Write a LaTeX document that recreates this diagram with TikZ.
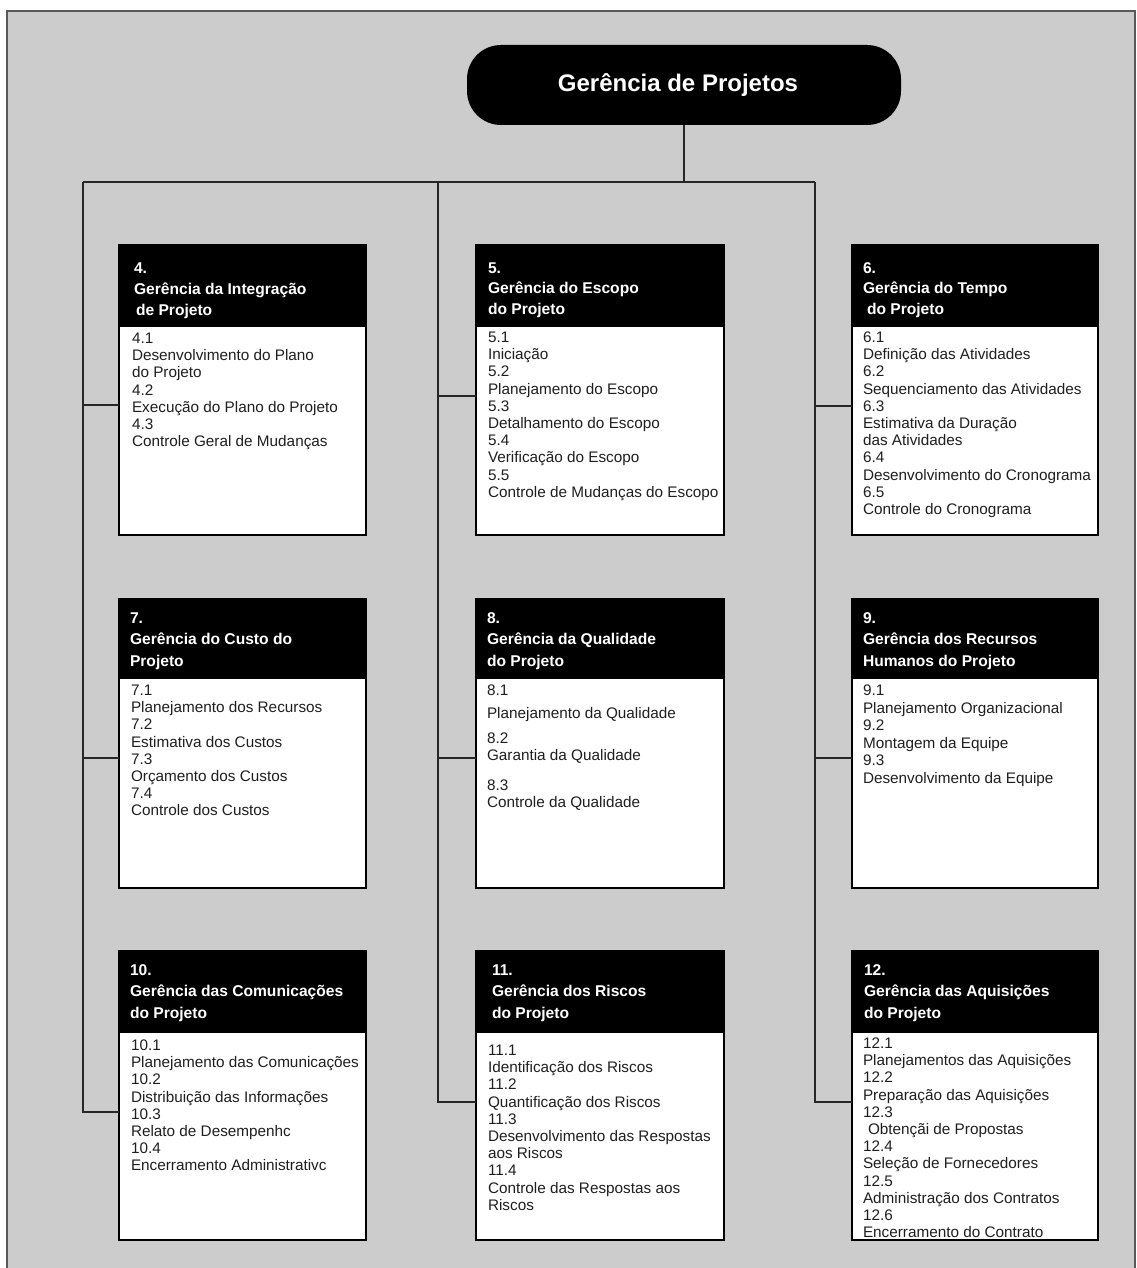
\documentclass[tikz,border=0pt]{standalone}
\usepackage{fontspec}
\setmainfont{Liberation Sans}
\usetikzlibrary{shadows}

% a column of text lines: style, name prefix, x, first baseline, line pitch, lines
\newcommand\txtlines[6]{%
  \foreach \t [count=\i from 0] in {#6}
    \node[#1] (#2-\i) at (#3, {#4+#5*\i}) {\t};
}

\definecolor{bggray}{HTML}{CCCCCC}

\tikzset{
  every node/.style={inner sep=0pt, outer sep=0pt},
  panel/.style={draw=black, line width=1.1pt, fill=white, anchor=north west,
    drop shadow={shadow xshift=1.3pt, shadow yshift=-1.3pt, fill=black, opacity=0.9}},
  head/.style={fill=black, anchor=north west},
  htxt/.style={anchor=base west, text=white, font=\fontsize{15.6}{18}\selectfont\bfseries},
  btxt/.style={anchor=base west, text=black!88, font=\fontsize{15.3}{17.2}\selectfont},
  wire/.style={draw=black!85, line width=1.1pt},
}

\begin{document}
\begin{tikzpicture}[x=1pt, y=-1pt]
% page and grey frame
\useasboundingbox (0,0) rectangle (1136,1268);
\fill[white] (0,0) rectangle (1136,1268);
\fill[bggray] (7,11) rectangle (1135,1268);
\draw[black!65, line width=1.4pt] (7,1268) -- (7,11) -- (1135,11) -- (1135,1268);

% root
\node[fill=black, rounded corners=34pt, minimum width=434pt, minimum height=80pt,
      text=white, font=\fontsize{24}{28}\selectfont\bfseries] (root) at (684,85)
      {\hspace*{-12pt}Gerência de Projetos};

% bus and joints
\coordinate (bus1) at (83,182);
\coordinate (bus2) at (438,182);
\coordinate (bus3) at (815,182);
\coordinate (j4) at (83,405);   \coordinate (j7) at (83,758);   \coordinate (j10) at (83,1112);
\coordinate (j5) at (438,396);  \coordinate (j8) at (438,758);  \coordinate (j11) at (438,1102);
\coordinate (j6) at (815,406);  \coordinate (j9) at (815,758);  \coordinate (j12) at (815,1102);

% panels
\node[panel, minimum width=247pt, minimum height=290pt] (p4) at (119,245) {};
\node[panel, minimum width=248pt, minimum height=290pt] (p5) at (476,245) {};
\node[panel, minimum width=246pt, minimum height=290pt] (p6) at (852,245) {};
\node[panel, minimum width=247pt, minimum height=289pt] (p7) at (119,599) {};
\node[panel, minimum width=248pt, minimum height=289pt] (p8) at (476,599) {};
\node[panel, minimum width=246pt, minimum height=289pt] (p9) at (852,599) {};
\node[panel, minimum width=247pt, minimum height=289pt] (p10) at (119,951) {};
\node[panel, minimum width=248pt, minimum height=289pt] (p11) at (476,951) {};
\node[panel, minimum width=246pt, minimum height=289pt] (p12) at (852,951) {};

\node[head, minimum width=247pt, minimum height=82pt] (h4) at (119,245) {};
\node[head, minimum width=248pt, minimum height=82pt] (h5) at (476,245) {};
\node[head, minimum width=246pt, minimum height=82pt] (h6) at (852,245) {};
\node[head, minimum width=247pt, minimum height=80pt] (h7) at (119,599) {};
\node[head, minimum width=248pt, minimum height=80pt] (h8) at (476,599) {};
\node[head, minimum width=246pt, minimum height=80pt] (h9) at (852,599) {};
\node[head, minimum width=247pt, minimum height=82pt] (h10) at (119,951) {};
\node[head, minimum width=248pt, minimum height=82pt] (h11) at (476,951) {};
\node[head, minimum width=246pt, minimum height=82pt] (h12) at (852,951) {};

% connectors
\draw[wire] (root.south) -- (root.south |- bus1);
\draw[wire] (bus1) -- (bus3);
\draw[wire] (bus1) -- (j10) -- (j10 -| p10.west);
\draw[wire] (bus2) -- (j11) -- (j11 -| p11.west);
\draw[wire] (bus3) -- (j12) -- (j12 -| p12.west);
\draw[wire] (j4) -- (j4 -| p4.west);
\draw[wire] (j7) -- (j7 -| p7.west);
\draw[wire] (j5) -- (j5 -| p5.west);
\draw[wire] (j8) -- (j8 -| p8.west);
\draw[wire] (j6) -- (j6 -| p6.west);
\draw[wire] (j9) -- (j9 -| p9.west);

% headings
\txtlines{htxt}{t4}{134}{273}{21}{4., Gerência da Integração, \hspace*{2pt}de Projeto}
\txtlines{htxt}{t5}{488}{273}{20.5}{5., Gerência do Escopo, do Projeto}
\txtlines{htxt}{t6}{863}{273}{20.8}{6., Gerência do Tempo, \hspace*{4pt}do Projeto}
\txtlines{htxt}{t7}{130}{623}{21.5}{7., Gerência do Custo do, Projeto}
\txtlines{htxt}{t8}{487}{623}{21.5}{8., Gerência da Qualidade, do Projeto}
\txtlines{htxt}{t9}{863}{623}{21.5}{9., Gerência dos Recursos, Humanos do Projeto}
\txtlines{htxt}{t10}{130}{975}{21.5}{10., Gerência das Comunicações, do Projeto}
\txtlines{htxt}{t11}{492}{975}{21.5}{11., Gerência dos Riscos, do Projeto}
\txtlines{htxt}{t12}{864}{975}{21.5}{12., Gerência das Aquisições, do Projeto}

% process lists
\txtlines{btxt}{b4}{132}{343.5}{17.2}{4.1, Desenvolvimento do Plano, do Projeto, 4.2,
  Execução do Plano do Projeto, 4.3, Controle Geral de Mudanças}
\txtlines{btxt}{b5}{488}{342.5}{17.2}{5.1, Iniciação, 5.2, Planejamento do Escopo, 5.3,
  Detalhamento do Escopo, 5.4, Verificação do Escopo, 5.5, Controle de Mudanças do Escopo}
\txtlines{btxt}{b6}{863}{342.5}{17.2}{6.1, Definição das Atividades, 6.2,
  Sequenciamento das Atividades, 6.3, Estimativa da Duração, das Atividades, 6.4,
  Desenvolvimento do Cronograma, 6.5, Controle do Cronograma}
\txtlines{btxt}{b7}{131}{695.5}{17.2}{7.1, Planejamento dos Recursos, 7.2,
  Estimativa dos Custos, 7.3, Orçamento dos Custos, 7.4, Controle dos Custos}
\foreach \y/\t [count=\i] in {695.5/8.1, 718.5/Planejamento da Qualidade, 743.5/8.2,
  760.5/Garantia da Qualidade, 790.5/8.3, 807.5/Controle da Qualidade}
  \node[btxt] (b8-\i) at (487,\y) {\t};
\txtlines{btxt}{b9}{863}{695.5}{17.6}{9.1, Planejamento Organizacional, 9.2,
  Montagem da Equipe, 9.3, Desenvolvimento da Equipe}
\txtlines{btxt}{b10}{131}{1050.5}{17.2}{10.1, Planejamento das Comunicações, 10.2,
  Distribuição das Informações, 10.3, Relato de Desempenhc, 10.4, Encerramento Administrativc}
\txtlines{btxt}{b11}{488}{1055.5}{17.2}{11.1, Identificação dos Riscos, 11.2,
  Quantificação dos Riscos, 11.3, Desenvolvimento das Respostas, aos Riscos, 11.4,
  Controle das Respostas aos, Riscos}
\txtlines{btxt}{b12}{863}{1048.5}{17.2}{12.1, Planejamentos das Aquisições, 12.2,
  Preparação das Aquisições, 12.3, \hspace*{5pt}Obtençãi de Propostas, 12.4,
  Seleção de Fornecedores, 12.5, Administração dos Contratos, 12.6, Encerramento do Contrato}
\end{tikzpicture}
\end{document}
